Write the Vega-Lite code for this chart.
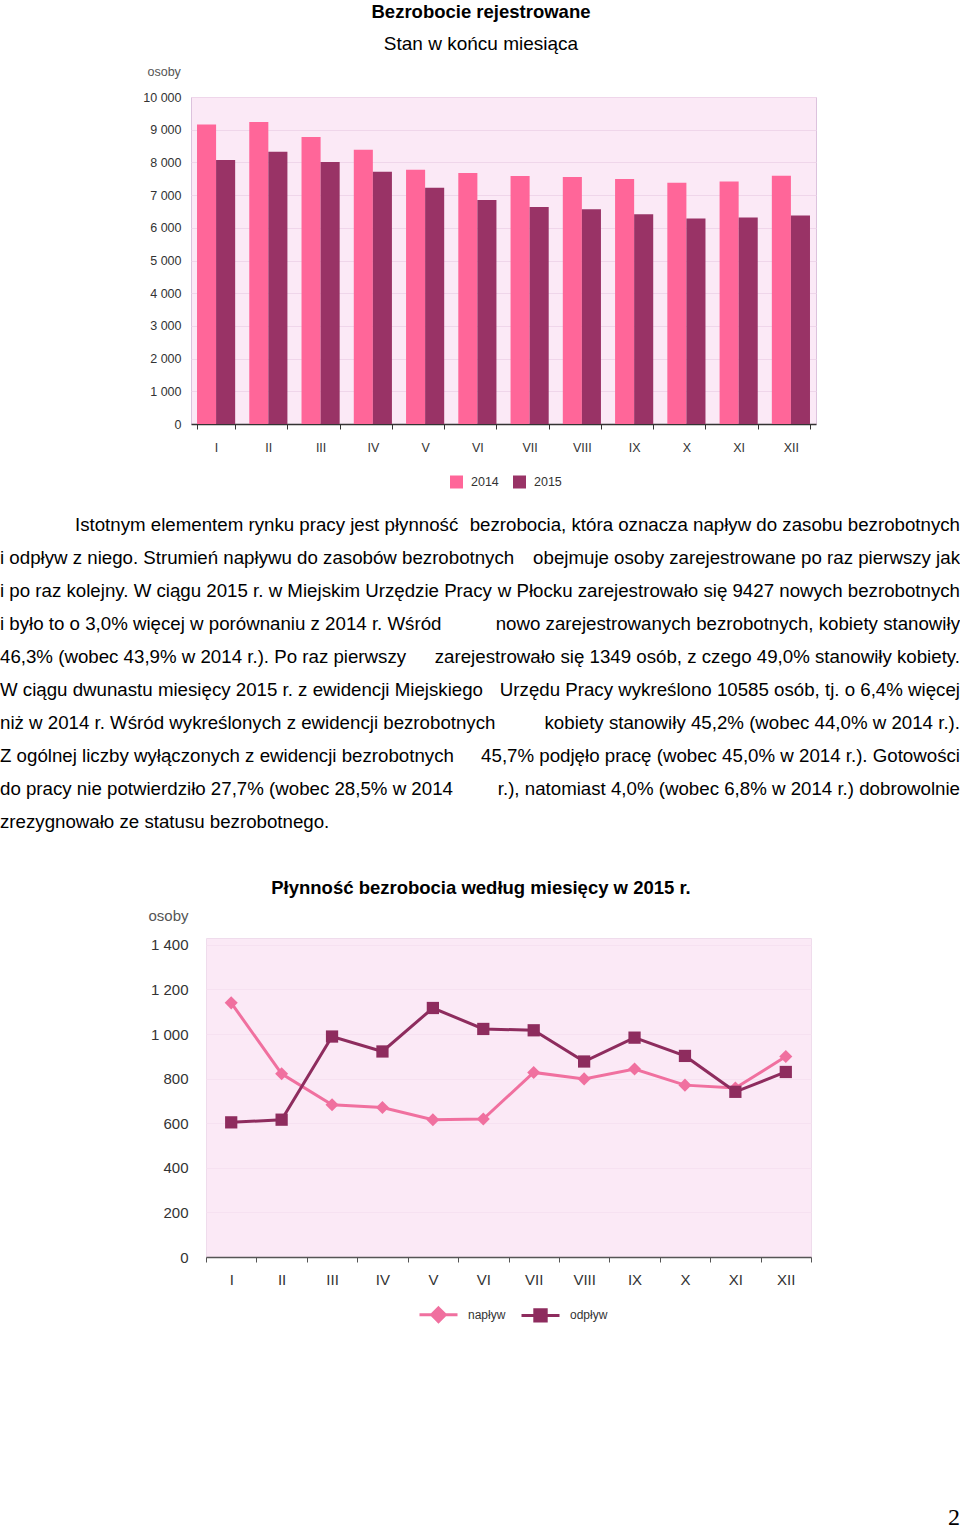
{
  "$schema": "https://vega.github.io/schema/vega-lite/v6.json",
  "padding": {"top": 2, "left": 0, "right": 0, "bottom": 0},
  "background": "white",
  "config": {
    "font": "Liberation Sans",
    "view": {"stroke": null},
    "axis": {"labelFont": "Liberation Sans", "titleFont": "Liberation Sans"},
    "legend": {"labelFont": "Liberation Sans", "padding": 0}
  },
  "title": {"text": "2", "orient": "bottom", "anchor": "end", "frame": "bounds", "font": "Liberation Serif", "fontSize": 24, "fontWeight": "normal", "color": "#000", "offset": 178},
  "columns": 1,
  "bounds": "full",
  "spacing": {"row": 19, "column": 0},
  "resolve": {"scale": {"color": "independent"}, "legend": {"color": "independent"}},
  "concat": [
    {"hconcat": [
    {"width": 1, "height": 1, "data": {"values": []}, "mark": {"type": "point", "opacity": 0}, "encoding": {}},
    {
      "width": 625,
      "height": 327,
      "title": {"text": "Bezrobocie rejestrowane", "subtitle": "Stan w końcu miesiąca", "anchor": "middle", "frame": "group", "dx": -22.5, "font": "Liberation Sans", "fontSize": 18.5, "fontWeight": "bold", "color": "#000", "subtitleFont": "Liberation Sans", "subtitleFontSize": 19, "subtitleColor": "#000", "subtitlePadding": 14, "offset": 11},
      "view": {"fill": "#fbe9f6", "stroke": "#dcc2dd"},
      "data": {"values": [
        {"month": "I", "year": "2014", "value": 9160}, {"month": "I", "year": "2015", "value": 8071},
        {"month": "II", "year": "2014", "value": 9235}, {"month": "II", "year": "2015", "value": 8327},
        {"month": "III", "year": "2014", "value": 8776}, {"month": "III", "year": "2015", "value": 8010},
        {"month": "IV", "year": "2014", "value": 8388}, {"month": "IV", "year": "2015", "value": 7714},
        {"month": "V", "year": "2014", "value": 7776}, {"month": "V", "year": "2015", "value": 7224},
        {"month": "VI", "year": "2014", "value": 7673}, {"month": "VI", "year": "2015", "value": 6847},
        {"month": "VII", "year": "2014", "value": 7582}, {"month": "VII", "year": "2015", "value": 6633},
        {"month": "VIII", "year": "2014", "value": 7551}, {"month": "VIII", "year": "2015", "value": 6571},
        {"month": "IX", "year": "2014", "value": 7490}, {"month": "IX", "year": "2015", "value": 6418},
        {"month": "X", "year": "2014", "value": 7378}, {"month": "X", "year": "2015", "value": 6286},
        {"month": "XI", "year": "2014", "value": 7418}, {"month": "XI", "year": "2015", "value": 6316},
        {"month": "XII", "year": "2014", "value": 7592}, {"month": "XII", "year": "2015", "value": 6378}
      ]},
      "mark": {"type": "bar"},
      "encoding": {
        "x": {"field": "month", "type": "nominal", "sort": ["I","II","III","IV","V","VI","VII","VIII","IX","X","XI","XII"],
              "scale": {"paddingInner": 0.27, "paddingOuter": 0.115},
              "axis": {"title": null, "labelAngle": 0, "tickBand": "extent", "tickSize": 5, "tickColor": "#333", "domainColor": "#333", "domainWidth": 1.5, "labelFontSize": 12.5, "labelColor": "#333", "labelPadding": 12, "grid": false}},
        "xOffset": {"field": "year", "type": "nominal"},
        "y": {"field": "value", "type": "quantitative", "scale": {"domain": [0, 10000], "nice": false},
              "axis": {"title": "osoby", "titleAngle": 0, "titleX": -44, "titleY": -26, "titleAlign": "left", "titleBaseline": "middle", "titleFontSize": 12.5, "titleFontWeight": "normal", "titleColor": "#555",
                       "values": [0,1000,2000,3000,4000,5000,6000,7000,8000,9000,10000],
                       "labelExpr": "replace(format(datum.value, ','), ',', ' ')",
                       "labelFontSize": 12.5, "labelColor": "#333", "labelPadding": 10, "tickSize": 0, "domain": false, "gridColor": "#efd6ea", "gridWidth": 1, "minExtent": 189, "maxExtent": 189}},
        "color": {"field": "year", "type": "nominal", "scale": {"domain": ["2014", "2015"], "range": ["#ff6699", "#993366"]},
                  "legend": {"orient": "none", "legendX": 450, "legendY": 378.5, "direction": "horizontal", "title": null, "symbolType": "square", "symbolSize": 169, "symbolStrokeWidth": 0, "labelFontSize": 12.5, "labelColor": "#333", "labelOffset": 8, "columnPadding": 14}}
      }
    }], "spacing": 0},
    {
      "width": 960,
      "height": 351,
      "view": {"stroke": null, "fill": null},
      "data": {"values": [
        {"line": 0, "part": "left", "text": "Istotnym elementem rynku pracy jest płynność"},
        {"line": 0, "part": "right", "text": "bezrobocia, która oznacza napływ do zasobu bezrobotnych"},
        {"line": 1, "part": "left", "text": "i odpływ z niego. Strumień napływu do zasobów bezrobotnych"},
        {"line": 1, "part": "right", "text": "obejmuje osoby zarejestrowane po raz pierwszy jak"},
        {"line": 2, "part": "left", "text": "i po raz kolejny. W ciągu 2015 r. w Miejskim Urzędzie Pracy"},
        {"line": 2, "part": "right", "text": "w Płocku zarejestrowało się 9427 nowych bezrobotnych"},
        {"line": 3, "part": "left", "text": "i było to o 3,0% więcej w porównaniu z 2014 r. Wśród"},
        {"line": 3, "part": "right", "text": "nowo zarejestrowanych bezrobotnych, kobiety stanowiły"},
        {"line": 4, "part": "left", "text": "46,3% (wobec 43,9% w 2014 r.). Po raz pierwszy"},
        {"line": 4, "part": "right", "text": "zarejestrowało się 1349 osób, z czego 49,0% stanowiły kobiety."},
        {"line": 5, "part": "left", "text": "W ciągu dwunastu miesięcy 2015 r. z ewidencji Miejskiego"},
        {"line": 5, "part": "right", "text": "Urzędu Pracy wykreślono 10585 osób, tj. o 6,4% więcej"},
        {"line": 6, "part": "left", "text": "niż w 2014 r. Wśród wykreślonych z ewidencji bezrobotnych"},
        {"line": 6, "part": "right", "text": "kobiety stanowiły 45,2% (wobec 44,0% w 2014 r.)."},
        {"line": 7, "part": "left", "text": "Z ogólnej liczby wyłączonych z ewidencji bezrobotnych"},
        {"line": 7, "part": "right", "text": "45,7% podjęło pracę (wobec 45,0% w 2014 r.). Gotowości"},
        {"line": 8, "part": "left", "text": "do pracy nie potwierdziło 27,7% (wobec 28,5% w 2014"},
        {"line": 8, "part": "right", "text": "r.), natomiast 4,0% (wobec 6,8% w 2014 r.) dobrowolnie"},
        {"line": 9, "part": "left", "text": "zrezygnowało ze statusu bezrobotnego."}
      ]},
      "encoding": {
        "y": {"field": "line", "type": "quantitative", "scale": {"domain": [-0.5, 10.13], "reverse": true, "nice": false, "zero": false}, "axis": null},
        "text": {"field": "text"}
      },
      "layer": [
        {"transform": [{"filter": "datum.line == 0 && datum.part == 'left'"}],
         "mark": {"type": "text", "align": "left", "baseline": "middle", "dx": 75, "font": "Liberation Sans", "fontSize": 18.7, "color": "#000"},
         "encoding": {"x": {"value": 0}}},
        {"transform": [{"filter": "datum.line > 0 && datum.part == 'left'"}],
         "mark": {"type": "text", "align": "left", "baseline": "middle", "font": "Liberation Sans", "fontSize": 18.7, "color": "#000"},
         "encoding": {"x": {"value": 0}}},
        {"transform": [{"filter": "datum.part == 'right'"}],
         "mark": {"type": "text", "align": "right", "baseline": "middle", "font": "Liberation Sans", "fontSize": 18.7, "color": "#000"},
         "encoding": {"x": {"value": "width"}}}
      ]
    },
    {"hconcat": [
    {"width": 1, "height": 1, "data": {"values": []}, "mark": {"type": "point", "opacity": 0}, "encoding": {}},
    {
      "width": 605,
      "height": 319,
      "title": {"text": "Płynność bezrobocia według miesięcy w 2015 r.", "anchor": "middle", "frame": "group", "dx": -27.5, "font": "Liberation Sans", "fontSize": 18.5, "fontWeight": "bold", "color": "#000", "offset": 11},
      "view": {"fill": "#fbe9f6", "stroke": "#efdcec"},
      "data": {"values": [
        {"month": "I", "series": "napływ", "value": 1140}, {"month": "I", "series": "odpływ", "value": 604},
        {"month": "II", "series": "napływ", "value": 822}, {"month": "II", "series": "odpływ", "value": 616},
        {"month": "III", "series": "napływ", "value": 683}, {"month": "III", "series": "odpływ", "value": 989},
        {"month": "IV", "series": "napływ", "value": 671}, {"month": "IV", "series": "odpływ", "value": 922},
        {"month": "V", "series": "napływ", "value": 616}, {"month": "V", "series": "odpływ", "value": 1117},
        {"month": "VI", "series": "napływ", "value": 619}, {"month": "VI", "series": "odpływ", "value": 1023},
        {"month": "VII", "series": "napływ", "value": 828}, {"month": "VII", "series": "odpływ", "value": 1017},
        {"month": "VIII", "series": "napływ", "value": 799}, {"month": "VIII", "series": "odpływ", "value": 877},
        {"month": "IX", "series": "napływ", "value": 843}, {"month": "IX", "series": "odpływ", "value": 984},
        {"month": "X", "series": "napływ", "value": 771}, {"month": "X", "series": "odpływ", "value": 902},
        {"month": "XI", "series": "napływ", "value": 758}, {"month": "XI", "series": "odpływ", "value": 741},
        {"month": "XII", "series": "napływ", "value": 899}, {"month": "XII", "series": "odpływ", "value": 830}
      ]},
      "encoding": {
        "x": {"field": "month", "type": "nominal", "sort": ["I","II","III","IV","V","VI","VII","VIII","IX","X","XI","XII"],
              "scale": {"type": "band", "paddingInner": 0, "paddingOuter": 0},
              "axis": {"title": null, "labelAngle": 0, "tickBand": "extent", "tickSize": 5, "tickColor": "#555", "domainColor": "#555", "domainWidth": 1.5, "labelFontSize": 15, "labelColor": "#333", "labelPadding": 10, "grid": false}},
        "y": {"field": "value", "type": "quantitative", "scale": {"domain": [0, 1431], "nice": false},
              "axis": {"title": "osoby", "titleAngle": 0, "titleX": -58, "titleY": -23, "titleAlign": "left", "titleBaseline": "middle", "titleFontSize": 15, "titleFontWeight": "normal", "titleColor": "#555",
                       "values": [0,200,400,600,800,1000,1200,1400],
                       "labelExpr": "replace(format(datum.value, ','), ',', ' ')",
                       "labelFontSize": 15, "labelColor": "#333", "labelPadding": 18, "tickSize": 0, "domain": false, "gridColor": "#f6e1f1", "gridWidth": 1, "minExtent": 204, "maxExtent": 204}},
        "color": {"field": "series", "type": "nominal", "scale": {"domain": ["napływ", "odpływ"], "range": ["#f0709f", "#8e2c5e"]},
                  "legend": {"orient": "none", "legendX": 418, "legendY": 356, "direction": "horizontal", "title": null, "symbolSize": 1444, "symbolStrokeWidth": 3, "labelFontSize": 12, "labelColor": "#333", "labelOffset": 9, "columnPadding": 9,
                             "encode": {"symbols": {"update": {
                               "shape": {"signal": "datum.value === 'napływ' ? 'M-1,0H1M0,-0.36L0.36,0L0,0.36L-0.36,0Z' : 'M-1,0H1M-0.3,-0.3H0.3V0.3H-0.3Z'"},
                               "stroke": {"signal": "datum.value === 'napływ' ? '#f0709f' : '#8e2c5e'"},
                               "fill": {"signal": "datum.value === 'napływ' ? '#f0709f' : '#8e2c5e'"},
                               "strokeWidth": {"value": 3},
                               "opacity": {"value": 1}}}}}}
      },
      "layer": [
        {"mark": {"type": "line", "strokeWidth": 3}},
        {"transform": [{"filter": "datum.series == 'napływ'"}],
         "mark": {"type": "point", "filled": true, "shape": "diamond", "size": 170, "opacity": 1}},
        {"transform": [{"filter": "datum.series == 'odpływ'"}],
         "mark": {"type": "point", "filled": true, "shape": "square", "size": 150, "opacity": 1}}
      ]
    }], "spacing": 0}
  ]
}
